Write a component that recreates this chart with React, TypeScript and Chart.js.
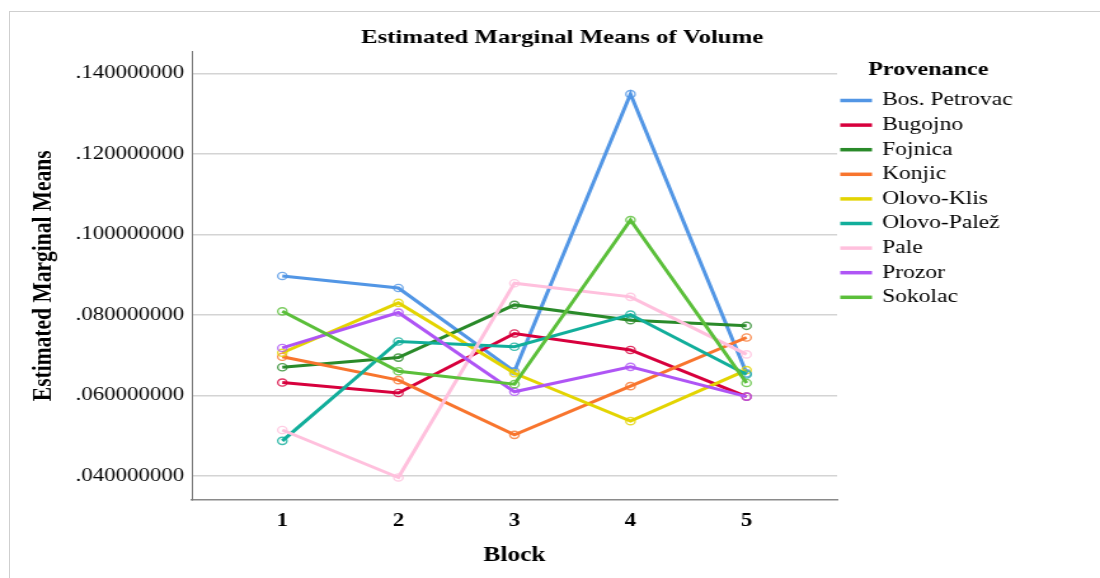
import React, { useEffect, useRef } from "react";
import { Chart, registerables } from "chart.js";

Chart.register(...registerables);

const blocks = [1, 2, 3, 4, 5];
const yTicks = [0.04, 0.06, 0.08, 0.1, 0.12, 0.14];

const bosPetrovac = [0.0897, 0.0867, 0.066, 0.1349, 0.0655];
const bugojno = [0.0632, 0.0606, 0.0754, 0.0713, 0.0597];
const fojnica = [0.067, 0.0694, 0.0825, 0.0787, 0.0773];
const konjic = [0.0696, 0.0638, 0.0502, 0.0623, 0.0744];
const olovoKlis = [0.0706, 0.083, 0.0655, 0.0536, 0.0663];
const olovoPalez = [0.0487, 0.0734, 0.0721, 0.0801, 0.0652];
const pale = [0.0514, 0.0396, 0.0879, 0.0845, 0.0702];
const prozor = [0.0718, 0.0806, 0.0609, 0.0671, 0.0597];
const sokolac = [0.0809, 0.066, 0.0628, 0.1036, 0.0631];

const seriesNames = [
  "Bos. Petrovac",
  "Bugojno",
  "Fojnica",
  "Konjic",
  "Olovo-Klis",
  "Olovo-Palež",
  "Pale",
  "Prozor",
  "Sokolac",
];
const seriesValues = [bosPetrovac, bugojno, fojnica, konjic, olovoKlis, olovoPalez, pale, prozor, sokolac];
const seriesColors = [
  "#5296E5",
  "#D7003D",
  "#2A8A2A",
  "#F8752E",
  "#E3D402",
  "#12AE9B",
  "#FFC0DD",
  "#AF55F5",
  "#5BBF3A",
];

const chartTitle = "Estimated Marginal Means of Volume";
const legendTitle = "Provenance";
const xTitle = "Block";
const yTitle = "Estimated Marginal Means";

const FONT = "'Liberation Serif', 'Times New Roman', serif";
const W = 866; // internal canvas width (stretched to 1100)
const H = 578;

function hexA(hex: string, a: number) {
  const r = parseInt(hex.slice(1, 3), 16);
  const g = parseInt(hex.slice(3, 5), 16);
  const b = parseInt(hex.slice(5, 7), 16);
  return `rgba(${r},${g},${b},${a})`;
}

const overlayPlugin = {
  id: "overlayText",
  afterDraw(chart: any) {
    const ctx = chart.ctx;
    ctx.save();
    ctx.fillStyle = "#000";
    ctx.textBaseline = "middle";
    ctx.font = `bold 19.5px ${FONT}`;
    ctx.textAlign = "center";
    ctx.fillText(chartTitle, 442.5, 37.5);
    ctx.textAlign = "left";
    ctx.font = `bold 19px ${FONT}`;
    ctx.fillText(legendTitle, 683.5, 70);
    ctx.font = `18.5px ${FONT}`;
    chart.data.datasets.forEach((ds: any, i: number) => {
      const y = 100.5 + i * 24.6;
      ctx.strokeStyle = ds.borderColor;
      ctx.lineWidth = 3.5;
      ctx.beginPath();
      ctx.moveTo(661.5, y);
      ctx.lineTo(686.5, y);
      ctx.stroke();
      ctx.fillStyle = "#000";
      ctx.fillText(ds.label, 694.5, y);
    });
    ctx.restore();
  },
};

export default function App() {
  const ref = useRef<HTMLCanvasElement>(null);
  useEffect(() => {
    if (!ref.current) return;
    const datasets = seriesNames.map((name, i) => ({
      label: name,
      data: blocks.map((b, j) => ({ x: b, y: seriesValues[i][j] })),
      borderColor: seriesColors[i],
      backgroundColor: seriesColors[i],
      borderWidth: 3,
      pointRadius: 3.6,
      pointBorderWidth: 1.4,
      pointBackgroundColor: "rgba(255,255,255,0)",
      pointBorderColor: hexA(seriesColors[i], 0.8),
      tension: 0,
      order: seriesNames.length - i,
    }));
    const chart = new Chart(ref.current, {
      type: "line",
      data: { datasets },
      plugins: [overlayPlugin],
      options: {
        animation: false,
        responsive: false,
        devicePixelRatio: 1,
        layout: { padding: { left: 10, right: 207, top: 51.5, bottom: 0 } },
        plugins: { legend: { display: false }, title: { display: false }, tooltip: { enabled: false } },
        scales: {
          x: {
            type: "linear",
            min: 0.22,
            max: 5.78,
            afterBuildTicks: (s: any) => {
              s.ticks = blocks.map((v) => ({ value: v }));
            },
            afterFit: (s: any) => {
              s.height = 78;
            },
            grid: { drawOnChartArea: false, drawTicks: false },
            border: { display: true, color: "#8a8a8a", width: 1.5 },
            ticks: {
              padding: 11,
              color: "#000",
              font: { family: FONT, size: 18, weight: "bold" },
              callback: (v: any) => String(v),
              maxRotation: 0,
            },
            title: {
              display: true,
              text: xTitle,
              color: "#000",
              font: { family: FONT, size: 20, weight: "bold" },
              padding: { top: 0, bottom: 10 },
            },
          },
          y: {
            type: "linear",
            min: 0.034,
            max: 0.1455,
            afterBuildTicks: (s: any) => {
              s.ticks = yTicks.map((v) => ({ value: v }));
            },
            afterFit: (s: any) => {
              s.width = 141;
            },
            grid: { color: "#d4d4d4", lineWidth: 1.5, drawTicks: false },
            border: { display: true, color: "#7a7a7a", width: 1 },
            ticks: {
              padding: 6,
              color: "#000",
              font: { family: FONT, size: 18 },
              callback: (v: any) => Number(v).toFixed(9).replace(/^0/, ""),
            },
            title: {
              display: true,
              text: yTitle,
              color: "#000",
              font: { family: FONT, size: 21.5, weight: "bold" },
              padding: { top: 12, bottom: 0 },
            },
          },
        },
      },
    });
    return () => chart.destroy();
  }, []);
  return (
    <div style={{ position: "absolute", left: 0, top: 0, width: 1100, height: 578, overflow: "hidden", background: "#fff" }}>
      <canvas
        ref={ref}
        width={W}
        height={H}
        style={{ position: "absolute", left: 0, top: 0, width: 1100, height: 578, display: "block" }}
      />
      <div
        style={{
          position: "absolute",
          left: 9,
          top: 11,
          width: 1091,
          height: 567,
          borderLeft: "1.5px solid #cfcfcf",
          borderTop: "1.5px solid #cfcfcf",
          pointerEvents: "none",
        }}
      />
    </div>
  );
}
